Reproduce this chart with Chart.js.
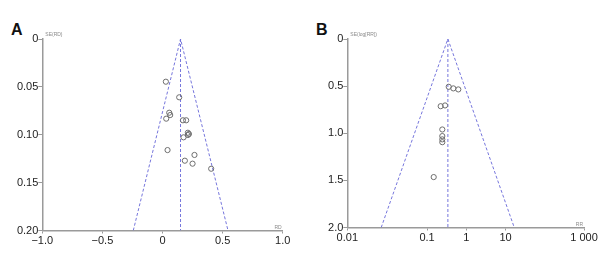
<!DOCTYPE html>
<html>
<head>
<meta charset="utf-8">
<script src="https://cdn.jsdelivr.net/npm/chart.js@4/dist/chart.umd.min.js"></script>
<style>
  html, body { margin: 0; padding: 0; background: #fff; }
  #wrap { position: relative; width: 602px; height: 255px; overflow: hidden; }
  .cv { position: absolute; top: 0; }
  .lbl { position: absolute; font: bold 16px "Liberation Sans", Arial, sans-serif; color: #111; }
</style>
</head>
<body>
<div id="wrap">
  <div class="lbl" style="left:11px; top:21px;">A</div>
  <div class="lbl" style="left:316px; top:21px;">B</div>
  <div class="cv" style="left:0; width:301px; height:255px;"><canvas id="cA" width="301" height="255"></canvas></div>
  <div class="cv" style="left:301px; width:301px; height:255px;"><canvas id="cB" width="301" height="255"></canvas></div>
</div>
<script>
// ---- Panel A data (risk difference) ----
const rdA = [0.028, 0.139, 0.056, 0.064, 0.031, 0.17, 0.197, 0.211, 0.22, 0.211, 0.175, 0.042, 0.266, 0.186, 0.25, 0.405];
const seA = [0.0446, 0.0609, 0.077, 0.0794, 0.0832, 0.0849, 0.0849, 0.0979, 0.0992, 0.1003, 0.1027, 0.116, 0.1211, 0.1271, 0.1302, 0.1355];
const funnelXA = [-0.243, 0.15, 0.545];
const funnelYA = [0.2, 0, 0.2];
const pooledA = 0.15;
const xTicksA = [-1.0, -0.5, 0, 0.5, 1.0];
const xLabelsA = ["\u22121.0", "\u22120.5", "0", "0.5", "1.0"];
const yTicksA = [0, 0.05, 0.10, 0.15, 0.20];
const yLabelsA = ["0", "0.05", "0.10", "0.15", "0.20"];

// ---- Panel B data (risk ratio) ----
const rrB = [0.357, 0.468, 0.627, 0.223, 0.288, 0.245, 0.245, 0.245, 0.245, 0.148];
const seB = [0.507, 0.524, 0.535, 0.713, 0.705, 0.96, 1.03, 1.065, 1.095, 1.465];
const funnelXB = [0.0068, 0.34, 16.7];
const funnelYB = [2.0, 0, 2.0];
const pooledB = 0.34;
const xTicksB = [0.00093, 0.1, 1, 10, 1000];
const xLabelsB = ["0.01", "0.1", "1", "10", "1 000"];
const yTicksB = [0, 0.5, 1.0, 1.5, 2.0];
const yLabelsB = ["0", "0.5", "1.0", "1.5", "2.0"];

const FONT = "'Liberation Sans', Arial, sans-serif";
const axisCol = '#9a9a9a';
const dashCol = '#7676dc';
const ptCol = '#6e6e6e';

function makeChart(id, cfg) {
  const pts = cfg.xs.map((x, i) => ({x: x, y: cfg.ys[i]}));
  const funnel = cfg.fx.map((x, i) => ({x: x, y: cfg.fy[i]}));
  const centre = [{x: cfg.pooled, y: cfg.ymin}, {x: cfg.pooled, y: cfg.ymax}];
  const smallText = {
    id: 'smallText',
    afterDraw(chart) {
      const c = chart.ctx, a = chart.chartArea;
      c.save();
      c.fillStyle = '#8a8a8a';
      c.font = '5px ' + FONT;
      c.textBaseline = 'alphabetic';
      c.textAlign = 'left';
      c.fillText(cfg.yTitle, a.left + 3, a.top - 3);
      c.textAlign = 'right';
      c.fillText(cfg.xTitle, a.right - 1, a.bottom - 2);
      c.restore();
    }
  };
  return new Chart(document.getElementById(id), {
    type: 'scatter',
    data: {
      datasets: [
        { data: pts, showLine: false, pointStyle: 'circle', pointRadius: 2.6,
          pointBorderColor: ptCol, pointBackgroundColor: 'rgba(0,0,0,0)', pointBorderWidth: 1, order: 0 },
        { data: funnel, showLine: true, borderColor: dashCol, borderWidth: 1, borderDash: [3, 2],
          pointRadius: 0, fill: false, order: 1 },
        { data: centre, showLine: true, borderColor: dashCol, borderWidth: 1, borderDash: [3, 2],
          pointRadius: 0, fill: false, order: 1 }
      ]
    },
    options: {
      responsive: false,
      animation: false,
      events: [],
      layout: { padding: { top: cfg.top, right: cfg.right, left: 0, bottom: 0 } },
      plugins: { legend: { display: false }, tooltip: { enabled: false } },
      scales: {
        x: {
          type: cfg.xType,
          min: cfg.xTicks[0], max: cfg.xTicks[cfg.xTicks.length - 1],
          afterBuildTicks: s => { s.ticks = cfg.xTicks.map(v => ({value: v})); },
          afterFit: s => { s.height = cfg.xH; },
          grid: { display: true, drawOnChartArea: false, color: axisCol, tickLength: 3 },
          border: { display: true, color: axisCol, width: 1.5 },
          ticks: { autoSkip: false, maxRotation: 0, padding: 1, color: '#222',
                   font: { family: FONT, size: 11 },
                   callback: (v, i) => cfg.xLabels[i] }
        },
        y: {
          type: 'linear', reverse: true,
          min: cfg.ymin, max: cfg.ymax,
          afterBuildTicks: s => { s.ticks = cfg.yTicks.map(v => ({value: v})); },
          afterFit: s => { s.width = cfg.yW; },
          grid: { display: true, drawOnChartArea: false, color: axisCol, tickLength: 4 },
          border: { display: true, color: axisCol, width: 1.5 },
          ticks: { autoSkip: false, padding: 0, color: '#222',
                   font: { family: FONT, size: 11 },
                   callback: (v, i) => cfg.yLabels[i] }
        }
      }
    },
    plugins: [smallText]
  });
}

makeChart('cA', {
  xs: rdA, ys: seA, fx: funnelXA, fy: funnelYA, pooled: pooledA,
  xType: 'linear', xTicks: xTicksA, xLabels: xLabelsA,
  yTicks: yTicksA, yLabels: yLabelsA, ymin: 0, ymax: 0.2,
  top: 39, right: 18.3, xH: 24.5, yW: 42.3,
  yTitle: 'SE(RD)', xTitle: 'RD'
});

makeChart('cB', {
  xs: rrB, ys: seB, fx: funnelXB, fy: funnelYB, pooled: pooledB,
  xType: 'logarithmic', xTicks: xTicksB, xLabels: xLabelsB,
  yTicks: yTicksB, yLabels: yLabelsB, ymin: 0, ymax: 2.0,
  top: 39, right: 18, xH: 27.5, yW: 46.3,
  yTitle: 'SE(log[RR])', xTitle: 'RR'
});
</script>
</body>
</html>
